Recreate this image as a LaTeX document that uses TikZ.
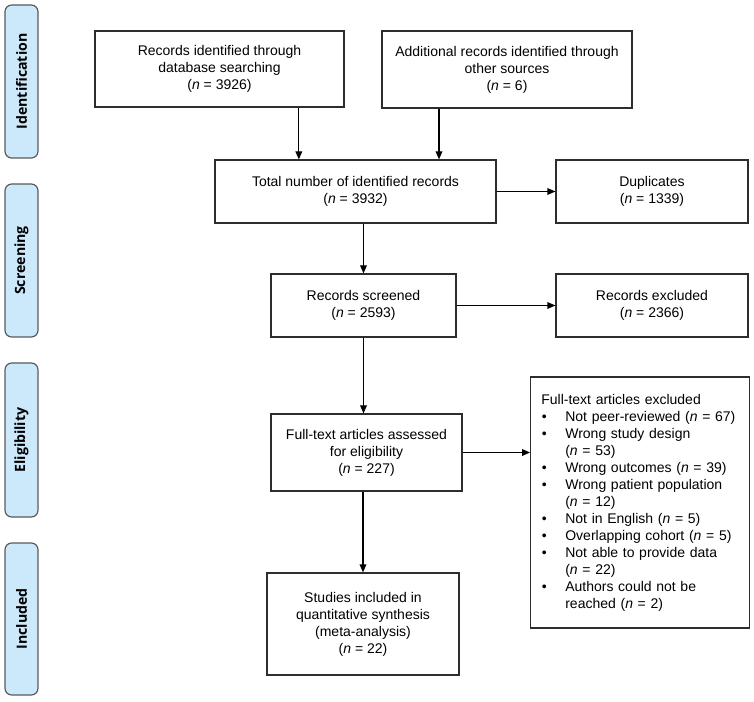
\documentclass[tikz,border=0pt]{standalone}
\usepackage{fontspec}
\setmainfont{Liberation Sans}
\newfontfamily\phasefont{Open Sans}
\usepackage{enumitem}
\usetikzlibrary{arrows.meta}

\definecolor{phasefill}{RGB}{204,232,251}
\definecolor{phaseline}{RGB}{90,90,90}
\definecolor{boxline}{RGB}{45,45,45}

\tikzset{every picture/.style={line width=0.75pt}}
\tikzset{
  box/.style={draw=boxline, line width=0.9pt, align=center, inner sep=2pt,
    font=\fontsize{10.5}{12.75}\selectfont},
  phase/.style={draw=phaseline, fill=phasefill, line width=0.9pt, rounded corners=5pt,
    rotate=90, minimum height=24.75pt, inner sep=0pt,
    font=\phasefont\bfseries\fontsize{10.6}{12}\selectfont},
  arr/.style={draw=black, line width=0.9pt, -{Triangle[length=6pt,width=5pt]}},
}

\begin{document}
\begin{tikzpicture}[x=0.75pt,y=0.75pt,yscale=-1,xscale=1]
	\useasboundingbox (0,0) rectangle (754,702);

	% Phase labels
	\node[phase, minimum width=114.75pt] (idf) at (21.5,81.5) {Identification};
	\node[phase, minimum width=114.75pt] (scr) at (21.5,260.5) {Screening};
	\node[phase, minimum width=115.5pt] (elg) at (21.5,440) {Eligibility};
	\node[phase, minimum width=114pt] (inc) at (21.5,619) {Included};

	% Identification
	\node[box, minimum width=186.75pt, minimum height=57pt] (db) at (219.5,69)
		{Records identified through\\database searching\\(\textit{n} = 3926)};
	\node[box, minimum width=187.5pt, minimum height=57.75pt] (other) at (507,69.5)
		{Additional records identified through\\other sources\\(\textit{n} = 6)};
	\node[box, minimum width=210.75pt, minimum height=47.25pt] (total) at (355.5,191.5)
		{Total number of identified records\\(\textit{n} = 3932)};
	\node[box, minimum width=144pt, minimum height=47.25pt] (dup) at (652,191.5)
		{Duplicates\\(\textit{n} = 1339)};

	% Screening
	\node[box, minimum width=138.75pt, minimum height=47.25pt] (screened) at (363.5,305.5)
		{Records screened\\(\textit{n} = 2593)};
	\node[box, minimum width=144pt, minimum height=47.25pt] (rexcl) at (652,305.5)
		{Records excluded\\(\textit{n} = 2366)};

	% Eligibility
	\node[box, minimum width=143.25pt, minimum height=57.75pt] (full) at (366.5,452.5)
		{Full-text articles assessed\\for eligibility\\(\textit{n} = 227)};
	\node[box, text width=148pt, inner xsep=8pt, minimum height=188.25pt, align=left] (fexcl) at (640,502.5)
		{Full-text articles excluded
		\begin{itemize}[nosep, leftmargin=18pt, labelwidth=4pt, labelsep=14pt]
		\item Not peer-reviewed (\textit{n} = 67)
		\item Wrong study design\newline(\textit{n} = 53)
		\item Wrong outcomes (\textit{n} = 39)
		\item Wrong patient population\newline(\textit{n} = 12)
		\item Not in English (\textit{n} = 5)
		\item Overlapping cohort (\textit{n} = 5)
		\item Not able to provide data\newline(\textit{n} = 22)
		\item Authors could not be\newline reached (\textit{n} = 2)
		\end{itemize}};

	% Included
	\node[box, minimum width=144pt, minimum height=76.5pt] (incl) at (363,624)
		{Studies included in\\quantitative synthesis\\(meta-analysis)\\(\textit{n} = 22)};

	% Connectors
	\draw[arr] ([xshift=59.5]db.south) -- ([xshift=59.5]db.south |- total.north);
	\draw[arr] ([xshift=-51]other.south) -- ([xshift=-51]other.south |- total.north);
	\draw[arr] (total.east) -- (dup.west);
	\draw[arr] (screened.north |- total.south) -- (screened.north);
	\draw[arr] (screened.east) -- (rexcl.west);
	\draw[arr] (screened.south) -- (screened.south |- full.north);
	\draw[arr] (full.east) -- (fexcl.west |- full.east);
	\draw[arr] (incl.north |- full.south) -- (incl.north);

\end{tikzpicture}
\end{document}
